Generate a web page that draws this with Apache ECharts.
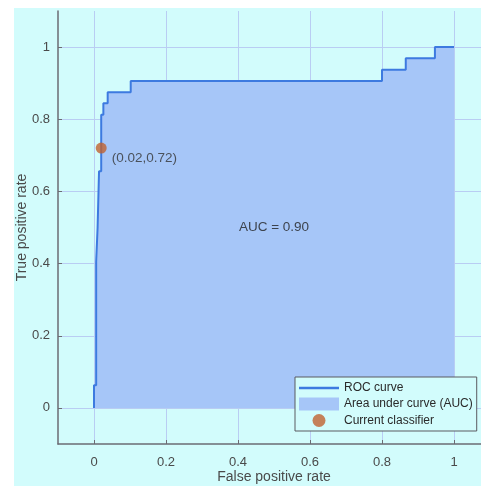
<!DOCTYPE html>
<html>
<head>
<meta charset="utf-8">
<script src="https://cdn.jsdelivr.net/npm/echarts@6/dist/echarts.min.js"></script>
<style>html,body{margin:0;padding:0;background:#fff;}#c{width:481px;height:486px;}</style>
</head>
<body>
<div id="c"></div>
<script>
// ROC staircase vertices
const fpr = [0, 0, 0.006, 0.006, 0.010, 0.010, 0.014, 0.014, 0.020, 0.020, 0.026, 0.026, 0.038, 0.038, 0.102, 0.102, 0.800, 0.800, 0.866, 0.866, 0.947, 0.947, 1.0];
const tpr = [0, 0.0625, 0.0625, 0.406, 0.406, 0.5, 0.5, 0.656, 0.656, 0.8125, 0.8125, 0.844, 0.844, 0.875, 0.875, 0.906, 0.906, 0.9375, 0.9375, 0.969, 0.969, 1.0, 1.0];
const classifier = [0.02, 0.72];
const classifierLabel = '(0.02,0.72)';
const aucText = 'AUC = 0.90';
const aucPos = [0.5, 0.5];
const legendNames = ['ROC curve', 'Area under curve (AUC)', 'Current classifier'];

const rocData = fpr.map((x, i) => [x, tpr[i]]);
const BG = '#d2fcfc';
const GRID = '#b9cdf3';
const AXIS = '#6b6b73';
const AREA = '#a6c6f8';
const LINE = '#3d7ae0';
const DOT = '#c0622f';
const FONT = 'Liberation Sans, Arial, Helvetica, sans-serif';

const chart = echarts.init(document.getElementById('c'));
chart.setOption({
  backgroundColor: '#ffffff',
  animation: false,
  graphic: [{
    type: 'rect', z: -100, silent: true,
    shape: { x: 14, y: 8, width: 470, height: 480 },
    style: { fill: BG }
  }],
  grid: { left: 58, top: 11, width: 432, height: 433, containLabel: false, outerBoundsMode: 'none' },
  xAxis: {
    type: 'value', min: -0.1, max: 1.1,
    name: 'False positive rate', nameLocation: 'middle', nameGap: 26, nameMoveOverlap: false,
    nameTextStyle: { fontFamily: FONT, fontSize: 14, color: '#4a4a4a' },
    axisLine: { show: true, onZero: false, lineStyle: { color: AXIS, width: 1.5 } },
    axisTick: { show: true, inside: true, length: 4, lineStyle: { color: AXIS } },
    axisLabel: { fontFamily: FONT, fontSize: 13, color: '#4a4a4a', margin: 12, showMinLabel: false, showMaxLabel: false },
    splitLine: { show: true, showMinLine: false, showMaxLine: false, lineStyle: { color: GRID, width: 1 } }
  },
  yAxis: {
    type: 'value', min: -0.1, max: 1.1,
    name: 'True positive rate', nameLocation: 'middle', nameGap: 29, nameRotate: 90, nameMoveOverlap: false,
    nameTextStyle: { fontFamily: FONT, fontSize: 14, color: '#4a4a4a' },
    axisLine: { show: true, onZero: false, lineStyle: { color: AXIS, width: 1.5 } },
    axisTick: { show: true, inside: true, length: 4, lineStyle: { color: AXIS } },
    axisLabel: { fontFamily: FONT, fontSize: 13, color: '#4a4a4a', margin: 8, showMinLabel: false, showMaxLabel: false },
    splitLine: { show: true, showMinLine: false, showMaxLine: false, lineStyle: { color: GRID, width: 1 } }
  },
  legend: {
    orient: 'vertical', left: 295, top: 377,
    padding: [5, 4, 4, 4], itemGap: 3.5, itemWidth: 40, itemHeight: 13,
    backgroundColor: BG, borderColor: '#5a5a60', borderWidth: 1, borderRadius: 0,
    textStyle: { fontFamily: FONT, fontSize: 12, color: '#2a2a2a' },
    data: [
      { name: legendNames[0], icon: 'path://M0,0L40,0L40,2.6L0,2.6Z', itemStyle: { color: LINE } },
      { name: legendNames[1], icon: 'rect', itemStyle: { color: AREA } },
      { name: legendNames[2], icon: 'circle', itemStyle: { color: DOT } }
    ]
  },
  series: [
    {
      name: legendNames[1], type: 'line', data: rocData, symbol: 'none',
      lineStyle: { width: 0, color: AREA }, itemStyle: { color: AREA },
      areaStyle: { color: AREA, opacity: 1, origin: 'auto' }, z: 2
    },
    {
      name: legendNames[0], type: 'line', data: rocData, symbol: 'none',
      lineStyle: { width: 2, color: LINE }, itemStyle: { color: LINE }, z: 3
    },
    {
      name: legendNames[2], type: 'scatter', data: [classifier], symbolSize: 11,
      itemStyle: { color: DOT }, z: 5,
      label: { show: true, formatter: classifierLabel, position: 'right', offset: [0, 10],
        fontFamily: FONT, fontSize: 13.5, color: '#333' }
    },
    {
      name: 'auc', type: 'scatter', data: [aucPos], symbolSize: 0, silent: true, z: 4,
      label: { show: true, formatter: aucText, position: 'inside',
        fontFamily: FONT, fontSize: 13.5, color: '#222' }
    }
  ]
});
</script>
</body>
</html>
